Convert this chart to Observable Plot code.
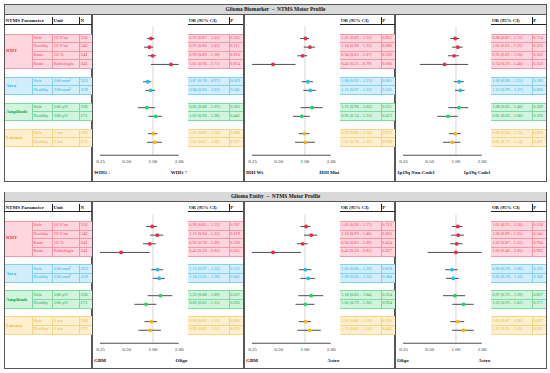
<!DOCTYPE html>
<html><head><meta charset="utf-8">
<script src="https://cdn.jsdelivr.net/npm/d3@7"></script>
<script src="https://cdn.jsdelivr.net/npm/@observablehq/plot@0.6"></script>
<style>
html,body{margin:0;padding:0;background:#fff;}
#root{position:relative;width:550px;height:373px;overflow:hidden;font-family:"Liberation Serif","DejaVu Serif",serif;color:#111;}
.abs{position:absolute;box-sizing:border-box;}
.t{position:absolute;white-space:nowrap;}
svg{overflow:visible;}
</style></head><body><div id="root"></div>
<script>
// ---------------- DATA ----------------
const groups = ["RMT", "Area", "Amplitude", "Latency"];
const groupSizes = [4, 2, 2, 2];
const subLabels = ["Sick", "Healthy", "Ratio", "Ratio", "Sick", "Healthy", "Sick", "Healthy", "Sick", "Healthy"];
const units = ["10 V/m", "10 V/m", "10 %", "Pathologic", "100 mm²", "100 mm²", "500 µV", "500 µV", "1 ms", "1 ms"];
const ns = [356, 342, 341, 341, 323, 259, 326, 271, 326, 271];

const figTitles = ["Glioma Biomarker \u00a0–\u00a0 NTMS Motor Profile", "Glioma Entity \u00a0–\u00a0 NTMS Motor Profile"];
const compLeft = ["WHO ↓", "IDH Wt", "1p19q Non-Codel", "GBM", "GBM", "Oligo"];
const compRight = ["WHO ↑", "IDH Mut", "1p19q Codel", "Oligo", "Astro", "Astro"];
const xTicks = [0.25, 0.5, 1, 2];

// Glioma Biomarker: WHO
const whoOR = [0.95, 0.91, 0.99, 1.61, 0.87, 0.94, 0.85, 1.07, 1.01, 1.05];
const whoLo = [0.87, 0.80, 0.89, 0.96, 0.78, 0.83, 0.68, 0.90, 0.89, 0.87];
const whoHi = [1.05, 1.02, 1.10, 2.71, 0.97, 1.07, 1.07, 1.28, 1.14, 1.28];
const whoP  = [0.305, 0.115, 0.916, 0.074, 0.019, 0.345, 0.163, 0.441, 0.880, 0.597];
// IDH
const idhOR = [1.01, 1.14, 0.94, 0.43, 1.08, 1.15, 1.21, 0.92, 0.99, 1.01];
const idhLo = [0.89, 0.98, 0.83, 0.23, 0.93, 0.97, 0.90, 0.74, 0.86, 0.78];
const idhHi = [1.13, 1.33, 1.07, 0.79, 1.25, 1.35, 1.62, 1.15, 1.14, 1.32];
const idhP  = [0.922, 0.080, 0.320, 0.006, 0.301, 0.101, 0.211, 0.473, 0.873, 0.918];
// 1p19q
const codOR = [0.98, 1.05, 0.95, 0.74, 1.09, 1.12, 1.08, 0.81, 0.98, 0.91];
const codLo = [0.87, 0.91, 0.82, 0.39, 0.96, 0.99, 0.83, 0.62, 0.84, 0.72];
const codHi = [1.11, 1.21, 1.10, 1.40, 1.25, 1.27, 1.40, 1.06, 1.15, 1.14];
const codP  = [0.714, 0.525, 0.502, 0.353, 0.185, 0.083, 0.569, 0.120, 0.839, 0.407];
// Glioma Entity: GBM vs Oligo
const goOR = [0.98, 1.12, 0.92, 0.43, 1.13, 1.18, 1.22, 0.83, 0.96, 0.93];
const goLo = [0.85, 0.94, 0.78, 0.20, 0.97, 1.01, 0.88, 0.62, 0.81, 0.69];
const goHi = [1.13, 1.33, 1.09, 0.93, 1.33, 1.39, 1.69, 1.11, 1.13, 1.25];
const goP  = [0.787, 0.219, 0.330, 0.031, 0.121, 0.041, 0.227, 0.205, 0.680, 0.625];
// GBM vs Astro
const gaOR = [1.03, 1.18, 0.94, 0.43, 1.01, 1.09, 1.18, 1.01, 1.01, 1.13];
const gaLo = [0.90, 0.99, 0.82, 0.20, 0.86, 0.90, 0.85, 0.79, 0.86, 0.83];
const gaHi = [1.17, 1.40, 1.09, 0.91, 1.20, 1.32, 1.64, 1.30, 1.19, 1.54];
const gaP  = [0.713, 0.063, 0.434, 0.027, 0.870, 0.384, 0.314, 0.934, 0.920, 0.442];
// Oligo vs Astro
const oaOR = [1.05, 1.06, 1.02, 1.00, 0.90, 0.93, 0.97, 1.22, 1.05, 1.22];
const oaLo = [0.91, 0.89, 0.87, 0.48, 0.76, 0.78, 0.72, 0.92, 0.87, 0.91];
const oaHi = [1.20, 1.25, 1.21, 2.05, 1.06, 1.10, 1.29, 1.62, 1.26, 1.62];
const oaP  = [0.526, 0.545, 0.784, 0.995, 0.191, 0.366, 0.827, 0.171, 0.623, 0.181];

const panelOR = [whoOR, idhOR, codOR, goOR, gaOR, oaOR];
const panelLo = [whoLo, idhLo, codLo, goLo, gaLo, oaLo];
const panelHi = [whoHi, idhHi, codHi, goHi, gaHi, oaHi];
const panelP  = [whoP, idhP, codP, goP, gaP, oaP];

// ---------------- STYLE ----------------
const groupText = ["#ef3d5c", "#1eaee3", "#10a94b", "#f0b23a"];
const groupFill = ["#ffd6dd", "#d3eefb", "#d1f4dd", "#fef0cf"];
const groupLine = ["#f497a9", "#84d0f0", "#80d9a3", "#f7d68b"];
const pointColors = ["#f2264a", "#1fbfee", "#1ed762", "#f6b60a"];
const FONT = '"Liberation Serif","DejaVu Serif",serif';

const ROW = 8.65;
const figTops = [4, 191.6];
const FIG_H = 177.6;
const panelLefts = [92, 244, 395];
const rowTop = (f, i) => figTops[f] + 12.5 + i * ROW;

// row index of each data row
const rowIdx = [];
{ let r = 2; groupSizes.forEach((s, g) => { for (let k = 0; k < s; k++) rowIdx.push(r + k); r += s + 1; }); }
const rowGroup = [];
groupSizes.forEach((s, g) => { for (let k = 0; k < s; k++) rowGroup.push(g); });
const groupStart = []; { let c = 0; groupSizes.forEach(s => { groupStart.push(c); c += s; }); }

const root = document.getElementById("root");
function box(x, y, w, h, style) {
  const d = document.createElement("div"); d.className = "abs";
  Object.assign(d.style, {left: x + "px", top: y + "px", width: w + "px", height: h + "px"}, style || {});
  root.appendChild(d); return d;
}
function txt(x, y, h, s, style) {
  const d = document.createElement("div"); d.className = "t"; d.textContent = s;
  Object.assign(d.style, {left: x + "px", top: y + "px", height: h + "px", lineHeight: h + "px"}, style || {});
  root.appendChild(d); return d;
}
const hline = (x1, x2, y, c, w) => box(x1, y - w / 2, x2 - x1, w, {background: c});
const vline = (x, y1, y2, c, w) => box(x - w / 2, y1, w, y2 - y1, {background: c});

for (let f = 0; f < 2; f++) {
  const top = figTops[f];
  // frame
  box(4, top, 543, FIG_H, {border: "1.2px solid #575757"});
  box(4.6, top + 0.8, 541.8, 9.8, {background: "#d9d9d9", borderBottom: "1px solid #575757"});
  txt(4, top + 0.8, 9.8, figTitles[f], {width: "543px", textAlign: "center", fontWeight: "bold", fontSize: "5.4px"});
  panelLefts.forEach(L => vline(L, top + 10.6, top + FIG_H - 0.6, "#575757", 1.2));

  // left header
  const hT = rowTop(f, 0), hB = rowTop(f, 0) + 7.4;
  txt(5.5, hT, 7.4, "NTMS Parameter", {fontWeight: "bold", fontSize: "5px"});
  txt(53.6, hT, 7.4, "Unit", {fontWeight: "bold", fontSize: "5px"});
  txt(80.6, hT, 7.4, "N", {fontWeight: "bold", fontSize: "5px"});
  hline(4, 92, hB, "#222", 0.7);
  vline(52, hT, hB, "#222", 0.6);
  vline(79, hT, hB, "#222", 0.6);

  // left group blocks
  groups.forEach((g, gi) => {
    const r0 = rowIdx[groupStart[gi]], n = groupSizes[gi];
    const y0 = rowTop(f, r0), y1 = rowTop(f, r0 + n);
    box(4.6, y0, 87.4, y1 - y0, {background: groupFill[gi]});
    hline(4.6, 92, y0, groupLine[gi], 0.6);
    hline(4.6, 92, y1, groupLine[gi], 0.6);
    [32, 52, 79].forEach(x => vline(x, y0, y1, groupLine[gi], 0.6));
    for (let k = 1; k < n; k++) hline(32, 92, rowTop(f, r0 + k), groupLine[gi], 0.6);
    txt(6, y0, y1 - y0, g, {color: groupText[gi], fontWeight: "bold", fontSize: "4.8px"});
    for (let k = 0; k < n; k++) {
      const j = groupStart[gi] + k, yy = rowTop(f, r0 + k);
      const st = {color: groupText[gi], fontSize: "4.7px"};
      txt(33.3, yy, ROW, subLabels[j], st);
      txt(53.8, yy, ROW, units[j], st);
      txt(80.6, yy, ROW, String(ns[j]), st);
    }
  });

  // forest panels
  for (let p = 0; p < 3; p++) {
    const k = f * 3 + p, L = panelLefts[p];
    const oX = L + 96.3, pX = L + 137, eX = L + 151.3;
    txt(oX + 0.6, hT, 7.4, "OR (95% CI)", {fontWeight: "bold", fontSize: "4.8px"});
    txt(pX + 1.2, hT, 7.4, "P", {fontWeight: "bold", fontSize: "4.8px"});
    hline(oX, eX, hB, "#222", 0.7);
    vline(pX, hT, hB, "#222", 0.6);
    groups.forEach((g, gi) => {
      const r0 = rowIdx[groupStart[gi]], n = groupSizes[gi];
      const y0 = rowTop(f, r0), y1 = rowTop(f, r0 + n);
      box(oX, y0, eX - oX, y1 - y0, {background: groupFill[gi]});
      for (let q = 0; q <= n; q++) hline(oX, eX, rowTop(f, r0 + q), groupLine[gi], 0.6);
      vline(pX, y0, y1, groupLine[gi], 0.6);
      for (let q = 0; q < n; q++) {
        const j = groupStart[gi] + q, yy = rowTop(f, r0 + q);
        const st = {color: groupText[gi], fontSize: "4.25px"};
        txt(oX + 0.9, yy, ROW, `${panelOR[k][j].toFixed(2)} (${panelLo[k][j].toFixed(2)} – ${panelHi[k][j].toFixed(2)})`, st);
        txt(pX + 1.2, yy, ROW, panelP[k][j].toFixed(3), st);
      }
    });

    const rows = panelOR[k].map((v, j) => ({
      group: groups[rowGroup[j]], or: v, lo: panelLo[k][j], hi: panelHi[k][j], yc: rowIdx[j] + 0.5
    }));
    const H = 15 * ROW;
    const chart = Plot.plot({
      width: 96, height: H + 23,
      marginLeft: 8, marginRight: 9.3, marginTop: 0, marginBottom: 23,
      x: {type: "log", domain: [0.25, 2], clamp: true, ticks: xTicks, tickFormat: d => d.toFixed(2),
          tickSize: 0, tickPadding: 4.2, label: null},
      y: {domain: [1, 16], range: [0, H], axis: null},
      color: {domain: groups, range: pointColors},
      style: {fontFamily: FONT, fontSize: "5px", color: "#333", background: "transparent", overflow: "visible"},
      marks: [
        Plot.ruleX([1], {y1: 1.15, y2: 16, stroke: "#d6d6d6", strokeWidth: 1}),
        Plot.ruleY([{y: 16, a: 0.25, b: 2}], {y: "y", x1: "a", x2: "b", stroke: "#222", strokeWidth: 0.8}),
        Plot.ruleY(rows, {y: "yc", x1: "lo", x2: "hi", stroke: "#3a3a3a", strokeWidth: 0.9}),
        Plot.dot(rows, {x: "or", y: "yc", fill: "group", r: 1.9}),
        Plot.text([compLeft[k]], {frameAnchor: "bottom-left", dx: -6.5, dy: 19, textAnchor: "start",
          fontWeight: "bold", fontSize: 5, fill: "#111"}),
        Plot.text([compRight[k]], {frameAnchor: "bottom-right", dx: 8, dy: 19, textAnchor: "end",
          fontWeight: "bold", fontSize: 5, fill: "#111"})
      ]
    });
    chart.style.position = "absolute";
    chart.style.left = L + "px";
    chart.style.top = rowTop(f, 1) + "px";
    root.appendChild(chart);
  }
}
</script></body></html>
